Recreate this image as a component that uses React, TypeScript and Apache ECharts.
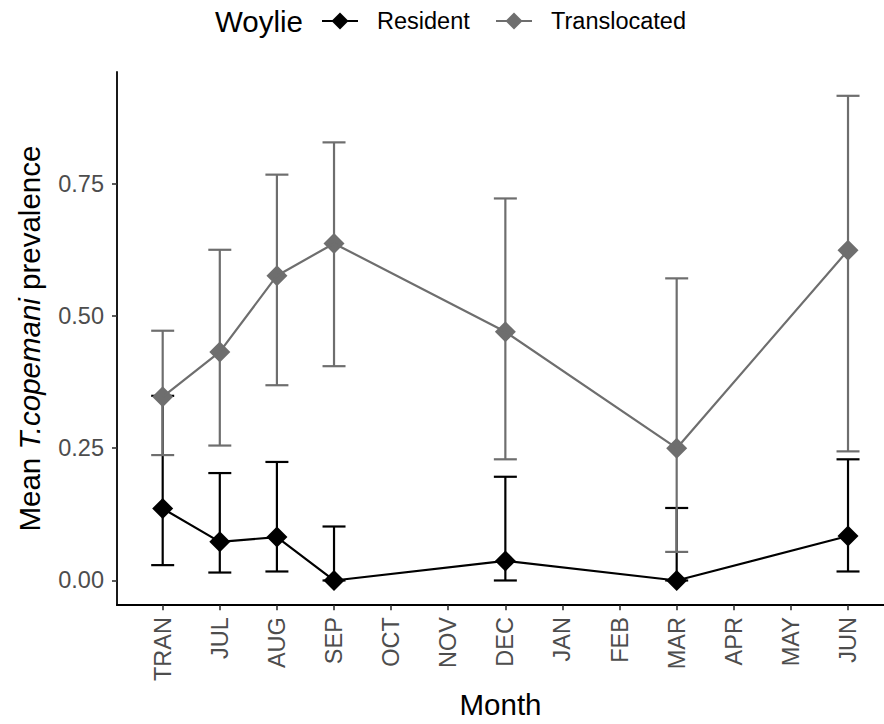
import React, { useEffect, useRef } from "react";
import * as echarts from "echarts";

// Month categories along the x axis
const months = ["TRAN", "JUL", "AUG", "SEP", "OCT", "NOV", "DEC", "JAN", "FEB", "MAR", "APR", "MAY", "JUN"];
// Months with samples
const sampledMonths = ["TRAN", "JUL", "AUG", "SEP", "DEC", "MAR", "JUN"];

// Resident woylies: mean prevalence and interval bounds
const residentMean = [0.136, 0.073, 0.082, 0.0, 0.037, 0.0, 0.084];
const residentLower = [0.029, 0.015, 0.017, 0.0, 0.0, 0.0, 0.017];
const residentUpper = [0.349, 0.203, 0.224, 0.102, 0.196, 0.137, 0.229];

// Translocated woylies: mean prevalence and interval bounds
const translocatedMean = [0.347, 0.432, 0.576, 0.637, 0.47, 0.25, 0.624];
const translocatedLower = [0.237, 0.255, 0.369, 0.405, 0.229, 0.054, 0.244];
const translocatedUpper = [0.472, 0.625, 0.767, 0.828, 0.722, 0.571, 0.916];

const yTicks = [0, 0.25, 0.5, 0.75];

const RESIDENT_COLOR = "#000000";
const TRANSLOCATED_COLOR = "#6e6e6e";
const FONT = "Liberation Sans, Arial, sans-serif";
const TITLE_SIZE = 29.5;
const TEXT_SIZE = 23.5;

const monthIndex = (m: string) => months.indexOf(m);

function errorBarSeries(name: string, lower: number[], upper: number[], color: string) {
  return {
    type: "custom",
    name,
    silent: true,
    data: sampledMonths.map((m, i) => [monthIndex(m), lower[i], upper[i]]),
    encode: { x: 0, y: [1, 2] },
    renderItem: (_params: any, api: any) => {
      const x = api.value(0);
      const lo = api.coord([x, api.value(1)]);
      const hi = api.coord([x, api.value(2)]);
      const hw = 11.5;
      const style = { stroke: color, lineWidth: 2.2 };
      return {
        type: "group",
        children: [
          { type: "line", shape: { x1: lo[0], y1: lo[1], x2: hi[0], y2: hi[1] }, style },
          { type: "line", shape: { x1: lo[0] - hw, y1: lo[1], x2: lo[0] + hw, y2: lo[1] }, style },
          { type: "line", shape: { x1: hi[0] - hw, y1: hi[1], x2: hi[0] + hw, y2: hi[1] }, style },
        ],
      };
    },
  };
}

function lineSeries(name: string, mean: number[], color: string) {
  return {
    type: "line",
    name,
    data: sampledMonths.map((m, i) => [monthIndex(m), mean[i]]),
    showSymbol: false,
    lineStyle: { color, width: 2.2 },
    itemStyle: { color },
  };
}

function pointSeries(name: string, mean: number[], color: string) {
  return {
    type: "scatter",
    name,
    data: sampledMonths.map((m, i) => [monthIndex(m), mean[i]]),
    symbol: "diamond",
    symbolSize: [21, 21],
    itemStyle: { color, opacity: 1 },
  };
}

function diamond(cx: number, cy: number, r: number, color: string) {
  return {
    type: "polygon",
    shape: { points: [[cx, cy - r], [cx + r, cy], [cx, cy + r], [cx - r, cy]] },
    style: { fill: color },
  };
}

function legendKey(x: number, y: number, color: string) {
  return [
    { type: "line", shape: { x1: x, y1: y, x2: x + 36, y2: y }, style: { stroke: color, lineWidth: 2.2 } },
    diamond(x + 18, y, 8.5, color),
  ];
}

export default function App() {
  const ref = useRef<HTMLDivElement>(null);

  useEffect(() => {
    if (!ref.current) return;
    const chart = echarts.init(ref.current, null, { renderer: "svg" });
    const legendY = 21;
    chart.setOption({
      animation: false,
      backgroundColor: "#ffffff",
      textStyle: { fontFamily: FONT },
      grid: { left: 117, right: 0, top: 72, bottom: 112, containLabel: false },
      xAxis: {
        type: "value",
        min: -0.8,
        max: 12.63,
        splitLine: { show: false },
        axisLine: { show: true, onZero: false, lineStyle: { color: "#000", width: 1.8 } },
        axisTick: { show: true, length: 5, lineStyle: { color: "#333", width: 1.6 }, customValues: months.map((_, i) => i) },
        axisLabel: {
          customValues: months.map((_, i) => i),
          formatter: (v: number) => months[Math.round(v)] ?? "",
          rotate: 90,
          color: "#4d4d4d",
          fontSize: TEXT_SIZE,
          margin: 12,
          fontFamily: FONT,
        },
        name: "Month",
        nameLocation: "middle",
        nameGap: 81,
        nameTextStyle: { color: "#000", fontSize: TITLE_SIZE, fontFamily: FONT },
      },
      yAxis: {
        type: "value",
        min: -0.0466,
        max: 0.961,
        splitLine: { show: false },
        axisLine: { show: true, onZero: false, lineStyle: { color: "#000", width: 1.8 } },
        axisTick: { show: true, length: 5, lineStyle: { color: "#333", width: 1.6 }, customValues: yTicks },
        axisLabel: {
          customValues: yTicks,
          formatter: (v: number) => v.toFixed(2),
          color: "#4d4d4d",
          fontSize: TEXT_SIZE,
          margin: 13,
          fontFamily: FONT,
        },
        name: "{n|Mean }{i|T.copemani}{n| prevalence}",
        nameLocation: "middle",
        nameGap: 73,
        nameRotate: 90,
        nameTextStyle: {
          rich: {
            n: { fontSize: TITLE_SIZE, color: "#000", fontFamily: FONT },
            i: { fontSize: TITLE_SIZE, color: "#000", fontStyle: "italic", fontFamily: FONT },
          },
        },
      },
      graphic: [
        {
          type: "text",
          x: 215,
          y: legendY,
          style: { text: "Woylie", fontSize: TITLE_SIZE, fill: "#000", fontFamily: FONT, verticalAlign: "middle" },
        },
        ...legendKey(322, legendY, RESIDENT_COLOR),
        {
          type: "text",
          x: 377,
          y: legendY,
          style: { text: "Resident", fontSize: TEXT_SIZE, fill: "#000", fontFamily: FONT, verticalAlign: "middle" },
        },
        ...legendKey(496, legendY, TRANSLOCATED_COLOR),
        {
          type: "text",
          x: 551,
          y: legendY,
          style: { text: "Translocated", fontSize: TEXT_SIZE, fill: "#000", fontFamily: FONT, verticalAlign: "middle" },
        },
      ],
      series: [
        errorBarSeries("Resident", residentLower, residentUpper, RESIDENT_COLOR),
        errorBarSeries("Translocated", translocatedLower, translocatedUpper, TRANSLOCATED_COLOR),
        lineSeries("Resident", residentMean, RESIDENT_COLOR),
        lineSeries("Translocated", translocatedMean, TRANSLOCATED_COLOR),
        pointSeries("Resident", residentMean, RESIDENT_COLOR),
        pointSeries("Translocated", translocatedMean, TRANSLOCATED_COLOR),
      ],
    });
    return () => chart.dispose();
  }, []);

  return (
    <div
      ref={ref}
      style={{ position: "fixed", left: 0, top: 0, width: 884, height: 724, background: "#fff" }}
    />
  );
}
